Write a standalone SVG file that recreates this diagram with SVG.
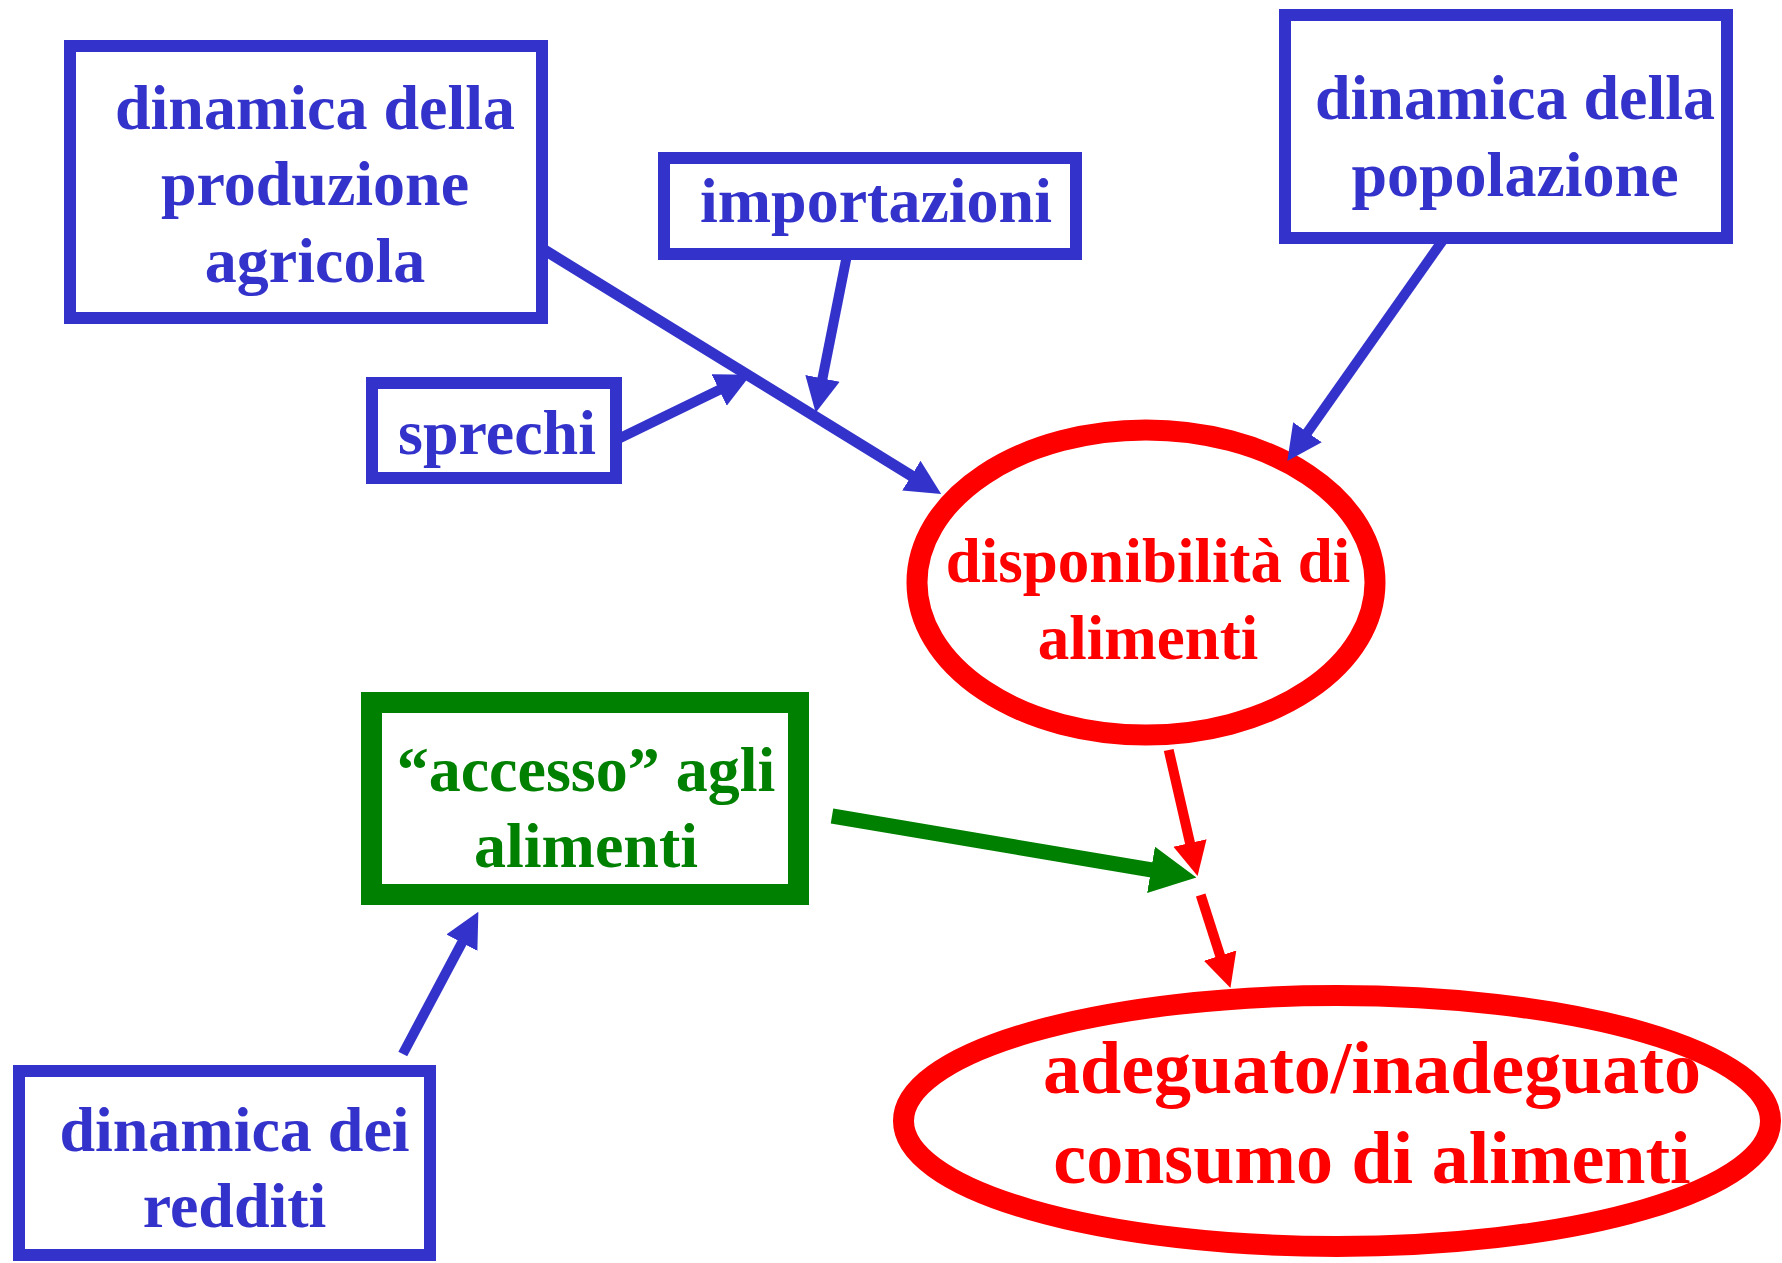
<svg xmlns="http://www.w3.org/2000/svg" width="1782" height="1263" viewBox="0 0 1782 1263">
<style>
  .box { fill: #ffffff; stroke: #3333CC; stroke-width: 12; }
  .gbox { fill: #ffffff; stroke: #008000; stroke-width: 21; }
  .ell { fill: #ffffff; stroke: #FF0000; stroke-width: 21; }
  .t { font-family: "Liberation Serif", "Times New Roman", serif; font-weight: bold; text-anchor: middle; }
  .tb { fill: #3333CC; font-size: 64px; }
  .tg { fill: #008000; font-size: 64px; }
  .tr { fill: #FF0000; font-size: 63px; }
  .tr2 { fill: #FF0000; font-size: 74px; }
  .cb { stroke: #3333CC; stroke-width: 10; fill: none; marker-end: url(#ab); }
  .cr { stroke: #FF0000; stroke-width: 10; fill: none; marker-end: url(#ar); }
  .cg { stroke: #008000; stroke-width: 15; fill: none; marker-end: url(#ag); }
</style>
<defs>
  <marker id="ab" markerUnits="userSpaceOnUse" markerWidth="40" markerHeight="40" refX="1" refY="17.5" orient="auto">
    <path d="M0,0 L35,17.5 L0,35 z" fill="#3333CC"/>
  </marker>
  <marker id="ar" markerUnits="userSpaceOnUse" markerWidth="40" markerHeight="40" refX="1" refY="17" orient="auto">
    <path d="M0,0 L34,17 L0,34 z" fill="#FF0000"/>
  </marker>
  <marker id="ag" markerUnits="userSpaceOnUse" markerWidth="50" markerHeight="50" refX="1" refY="23.5" orient="auto">
    <path d="M0,0 L46,23.5 L0,47 z" fill="#008000"/>
  </marker>
</defs>
<rect width="1782" height="1263" fill="#ffffff"/>

<g id="node-produzione">
  <rect class="box" x="70" y="46" width="472" height="272"/>
  <text class="t tb" x="315" y="129">dinamica della</text>
  <text class="t tb" x="315" y="205">produzione</text>
  <text class="t tb" x="315" y="282">agricola</text>
</g>
<g id="node-importazioni">
  <rect class="box" x="664" y="158" width="412" height="96"/>
  <text class="t tb" x="876" y="222">importazioni</text>
</g>
<g id="node-sprechi">
  <rect class="box" x="372" y="383" width="244" height="95"/>
  <text class="t tb" x="497" y="454">sprechi</text>
</g>
<g id="node-popolazione">
  <rect class="box" x="1285" y="15" width="442" height="223"/>
  <text class="t tb" x="1515" y="119">dinamica della</text>
  <text class="t tb" x="1515" y="196">popolazione</text>
</g>
<g id="node-accesso">
  <rect class="gbox" x="371.5" y="702.5" width="427" height="192"/>
  <text class="t tg" x="586" y="791">“accesso” agli</text>
  <text class="t tg" x="586" y="867">alimenti</text>
</g>
<g id="node-redditi">
  <rect class="box" x="19" y="1071" width="411" height="184"/>
  <text class="t tb" x="234.5" y="1151">dinamica dei</text>
  <text class="t tb" x="234.5" y="1227">redditi</text>
</g>
<g id="node-disponibilita">
  <ellipse class="ell" cx="1146" cy="582.5" rx="229" ry="152.5"/>
  <text class="t tr" x="1148" y="582">disponibilità di</text>
  <text class="t tr" x="1148" y="659">alimenti</text>
</g>
<g id="node-consumo">
  <ellipse class="ell" cx="1337" cy="1121" rx="433.5" ry="125.5"/>
  <text class="t tr2" x="1372" y="1093">adeguato/inadeguato</text>
  <text class="t tr2" x="1372" y="1183">consumo di alimenti</text>
</g>

<g id="connectors">
  <line class="cb" x1="542" y1="248.5" x2="912.2" y2="476.2" style="stroke-width:11"/>
  <line class="cb" x1="847" y1="255" x2="822.3" y2="379.3"/>
  <line class="cb" x1="617" y1="439.4" x2="720" y2="389.5"/>
  <line class="cb" x1="1443" y1="240" x2="1306.9" y2="433.1"/>
  <line class="cb" x1="402.8" y1="1054" x2="462.4" y2="941.8"/>
  <line class="cg" x1="832" y1="816" x2="1152" y2="870"/>
  <line class="cr" x1="1168.7" y1="750" x2="1190.2" y2="843.9"/>
  <line class="cr" x1="1200.7" y1="895" x2="1220.4" y2="956.6"/>
</g>
</svg>
